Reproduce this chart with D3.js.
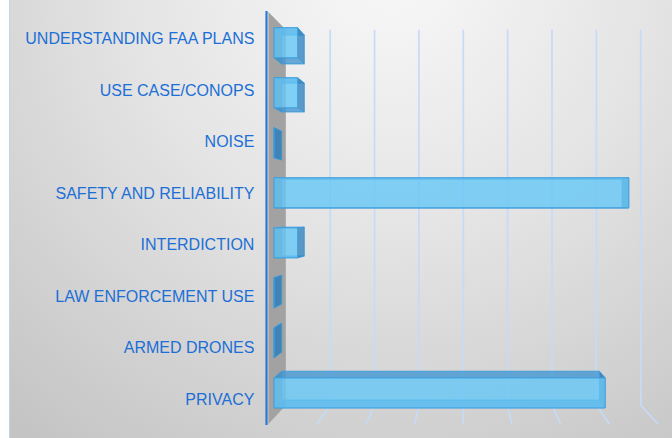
<!DOCTYPE html>
<html>
<head>
<meta charset="utf-8">
<script src="https://cdn.jsdelivr.net/npm/d3@7"></script>
<style>
  html, body { margin: 0; padding: 0; background: #ffffff; }
  svg { display: block; }
</style>
</head>
<body>
<svg id="chart" width="672" height="438"></svg>
<script>
// ---- data ----
const categories = [
  "UNDERSTANDING FAA PLANS",
  "USE CASE/CONOPS",
  "NOISE",
  "SAFETY AND RELIABILITY",
  "INTERDICTION",
  "LAW ENFORCEMENT USE",
  "ARMED DRONES",
  "PRIVACY"
];
const values = [1, 1, 0, 15, 1, 0, 0, 14];
const gridTicks = [2, 4, 6, 8, 10, 12, 14, 16];
const xDomain = [0, 16];

// ---- layout ----
const W = 672, H = 438;
const svg = d3.select("#chart");

// perspective projection parameters
const cx = 464, cy = 212, depthShrink = 0.089;
const zFront = 0.32, zBack = 0.757;
function proj(X, Y, z) {
  const s = 1 - z * depthShrink;
  return [cx + s * (X - cx), cy + s * (Y - cy)];
}

const x = d3.scaleLinear().domain(xDomain).range([268.4, 658]);
const y = d3.scaleBand().domain(categories).range([12, 424])
  .paddingInner(0.4).paddingOuter(0.2);

// ---- background ----
const defs = svg.append("defs");
const grad = defs.append("radialGradient").attr("id", "bg")
  .attr("gradientUnits", "userSpaceOnUse")
  .attr("cx", 390).attr("cy", -30).attr("r", 590);
grad.append("stop").attr("offset", "0").attr("stop-color", "#f8f8f8");
grad.append("stop").attr("offset", "0.45").attr("stop-color", "#e4e4e4");
grad.append("stop").attr("offset", "1").attr("stop-color", "#c4c4c4");

svg.append("rect").attr("x", 9).attr("y", 0).attr("width", W - 9).attr("height", H)
  .attr("fill", "url(#bg)");
svg.append("line").attr("x1", 9.5).attr("x2", 9.5).attr("y1", 0).attr("y2", H)
  .attr("stroke", "#bcd6f2").attr("stroke-width", 1);

const line = d3.line();
const poly = pts => line(pts) + "Z";

const yTop = y.range()[0], yBot = y.range()[1];

// ---- gridlines (back wall + floor) ----
const gGrid = svg.append("g");
gridTicks.forEach(t => {
  const X = x(t);
  gGrid.append("path")
    .attr("d", line([proj(X, yTop, 1), proj(X, yBot, 1), proj(X, yBot, 0)]))
    .attr("fill", "none")
    .attr("stroke", "#c6dbf6")
    .attr("stroke-width", 1.7);
});

// ---- left side wall ----
const X0 = x(0);
svg.append("path")
  .attr("d", poly([proj(X0, yTop, 0), proj(X0, yTop, 1), proj(X0, yBot, 1), proj(X0, yBot, 0)]))
  .attr("fill", "#a2a2a2");

// ---- bars (3D boxes) ----
const gBars = svg.append("g");
categories.forEach((c, i) => {
  const v = values[i];
  const xa = x(0), xb = x(v);
  const ya = y(c), yb = y(c) + y.bandwidth();
  const f = (X, Y) => proj(X, Y, zFront);
  const b = (X, Y) => proj(X, Y, zBack);
  const g = gBars.append("g");
  const face = (pts, fill, op, strokeOp) => g.append("path")
    .attr("d", poly(pts))
    .attr("fill", fill).attr("fill-opacity", op)
    .attr("stroke", "#3f9edc").attr("stroke-opacity", strokeOp)
    .attr("stroke-width", 1).attr("stroke-linejoin", "round");

  // back face
  face([b(xa, ya), b(xb, ya), b(xb, yb), b(xa, yb)], "#62c2f2", 0.3, 0.5);
  // left face
  face([f(xa, ya), b(xa, ya), b(xa, yb), f(xa, yb)], "#3d86bd", 0.5, 0.4);
  // top / bottom faces
  face([f(xa, ya), f(xb, ya), b(xb, ya), b(xa, ya)], "#3f92cf", 0.7, 0.6);
  face([f(xa, yb), f(xb, yb), b(xb, yb), b(xa, yb)], "#3f92cf", 0.7, 0.6);
  // right face
  face([f(xb, ya), b(xb, ya), b(xb, yb), f(xb, yb)], "#2f7cb8", 0.7, 0.6);
  // front face
  face([f(xa, ya), f(xb, ya), f(xb, yb), f(xa, yb)], "#66c8f6", 0.72, 0.9);
});

// ---- axis line ----
svg.append("line")
  .attr("x1", 266.5).attr("x2", 266.5).attr("y1", 11).attr("y2", 425)
  .attr("stroke", "#2a78d6").attr("stroke-width", 2.2);

// ---- category labels ----
const axis = d3.axisLeft(y).tickSize(0).tickPadding(14);
const gAxis = svg.append("g").attr("transform", `translate(${x(0)},1.5)`).call(axis);
gAxis.select(".domain").remove();
gAxis.selectAll("text")
  .attr("fill", "#1c6fd6")
  .style("font-family", "'Liberation Sans', Arial, Helvetica, sans-serif")
  .style("font-size", "16px");
</script>
</body>
</html>
